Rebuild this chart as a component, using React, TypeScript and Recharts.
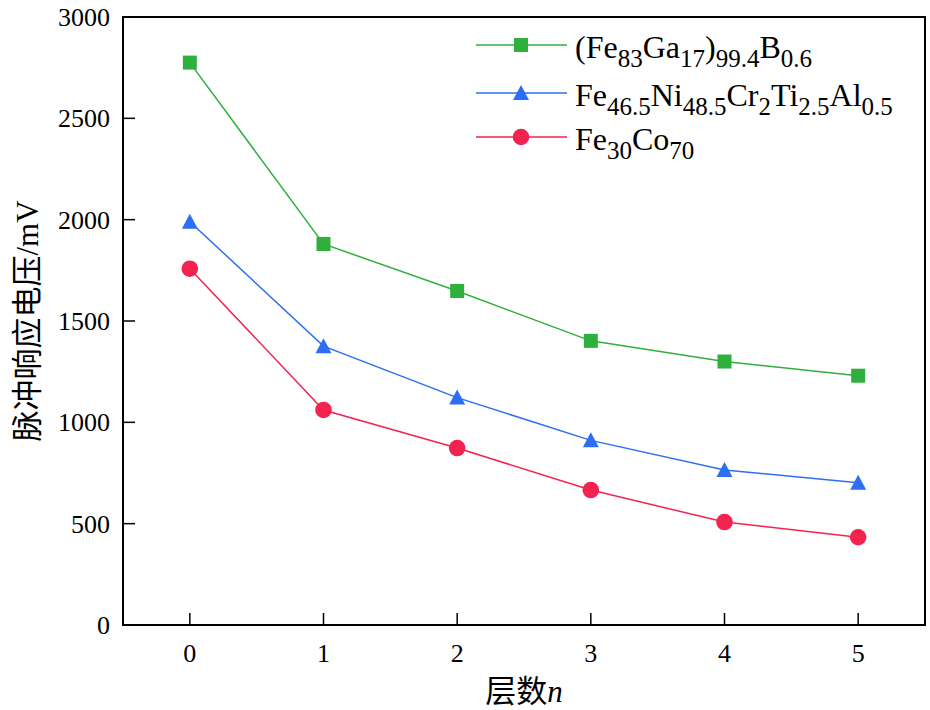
import React from "react";
import { LineChart, Line, XAxis, YAxis, ReferenceArea } from "recharts";

const layers = [0, 1, 2, 3, 4, 5];
const feGaB = [2775, 1880, 1648, 1402, 1300, 1230];
const feNiCrTiAl = [1990, 1376, 1122, 911, 765, 702];
const feCo = [1758, 1061, 873, 666, 508, 433];
const yTicks = [0, 500, 1000, 1500, 2000, 2500, 3000];

const GREEN = "#2fb03d";
const BLUE = "#2d6ff4";
const RED = "#f4224f";
const SERIF = "'Liberation Serif', 'Times New Roman', serif";
const CJK = "'Noto Sans CJK SC', sans-serif";

const data = layers.map((n, i) => ({
  n,
  a: feGaB[i],
  b: feNiCrTiAl[i],
  c: feCo[i],
}));

// legend labels as [text, subscript] pairs
const legendItems = [
  { color: GREEN, shape: "square", parts: [["(Fe", "83"], ["Ga", "17"], [")", "99.4"], ["B", "0.6"]] },
  { color: BLUE, shape: "triangle", parts: [["Fe", "46.5"], ["Ni", "48.5"], ["Cr", "2"], ["Ti", "2.5"], ["Al", "0.5"]] },
  { color: RED, shape: "circle", parts: [["Fe", "30"], ["Co", "70"]] },
];

function Marker({ shape, cx, cy, color }: any) {
  if (shape === "square") {
    return <rect x={cx - 7} y={cy - 7} width={14} height={14} fill={color} />;
  }
  if (shape === "triangle") {
    return (
      <polygon
        points={`${cx},${cy - 8} ${cx - 8},${cy + 7} ${cx + 8},${cy + 7}`}
        fill={color}
      />
    );
  }
  return <circle cx={cx} cy={cy} r={8.3} fill={color} />;
}

const makeDot = (shape: string, color: string) => (props: any) => (
  <Marker key={`${shape}-${props.index}`} shape={shape} cx={props.cx} cy={props.cy} color={color} />
);

function XTick({ x, y, payload }: any) {
  return (
    <g>
      <line x1={x} x2={x} y1={y} y2={y - 12} stroke="#000" strokeWidth={1.5} />
      <text x={x} y={y + 37} textAnchor="middle" fontFamily={SERIF} fontSize={26} fill="#000">
        {payload.value}
      </text>
    </g>
  );
}

function YTick({ x, y, payload }: any) {
  return (
    <g>
      <line x1={x + 13} x2={x + 25} y1={y} y2={y} stroke="#000" strokeWidth={1.5} />
      <text x={x} y={y + 9} textAnchor="end" fontFamily={SERIF} fontSize={26} fill="#000">
        {payload.value}
      </text>
    </g>
  );
}

const rowY = [45, 93, 137];

function LegendBox() {
  return (
    <g>
      {legendItems.map((item, i) => (
        <g key={i}>
          <line x1={476} x2={567} y1={rowY[i]} y2={rowY[i]} stroke={item.color} strokeWidth={1.5} />
          <Marker shape={item.shape} cx={521} cy={rowY[i]} color={item.color} />
          <text x={575} y={rowY[i] + 13} fontFamily={SERIF} fontSize={32} fill="#000">
            {item.parts.map(([t, s], j) => (
              <React.Fragment key={j}>
                <tspan dy={j === 0 ? 0 : -9} fontSize={32}>{t}</tspan>
                <tspan dy={9} fontSize={25}>{s}</tspan>
              </React.Fragment>
            ))}
          </text>
        </g>
      ))}
    </g>
  );
}

export default function App() {
  return (
    <div style={{ position: "absolute", left: 0, top: 0, width: 930, height: 710, background: "#fff" }}>
      <LineChart width={930} height={710} data={data} margin={{ top: 17, right: 5, left: 0, bottom: 0 }}>
        <ReferenceArea x1={-0.5} x2={5.5} y1={0} y2={3000} fill="none" stroke="#000" strokeWidth={2} />
        <XAxis
          dataKey="n"
          type="number"
          domain={[-0.5, 5.5]}
          ticks={layers}
          interval={0}
          height={85}
          axisLine={false}
          tickLine={false}
          tickSize={0}
          tickMargin={0}
          tick={<XTick />}
        />
        <YAxis
          type="number"
          domain={[0, 3000]}
          ticks={yTicks}
          interval={0}
          width={123}
          axisLine={false}
          tickLine={false}
          tickSize={0}
          tickMargin={13}
          tick={<YTick />}
        />
        <Line dataKey="a" name="(Fe83Ga17)99.4B0.6" stroke={GREEN} strokeWidth={1.5} dot={makeDot("square", GREEN)} isAnimationActive={false} />
        <Line dataKey="b" name="Fe46.5Ni48.5Cr2Ti2.5Al0.5" stroke={BLUE} strokeWidth={1.5} dot={makeDot("triangle", BLUE)} isAnimationActive={false} />
        <Line dataKey="c" name="Fe30Co70" stroke={RED} strokeWidth={1.5} dot={makeDot("circle", RED)} isAnimationActive={false} />
        <LegendBox />
        <text x={524} y={702} textAnchor="middle" fontSize={31} fill="#000">
          <tspan fontFamily={CJK}>层数</tspan>
          <tspan fontFamily={SERIF} fontStyle="italic">n</tspan>
        </text>
        <text
          x={0}
          y={0}
          transform="translate(38,321) rotate(-90)"
          textAnchor="middle"
          fontSize={31}
          fill="#000"
        >
          <tspan fontFamily={CJK}>脉冲响应电压</tspan>
          <tspan fontFamily={SERIF}>/mV</tspan>
        </text>
      </LineChart>
    </div>
  );
}
